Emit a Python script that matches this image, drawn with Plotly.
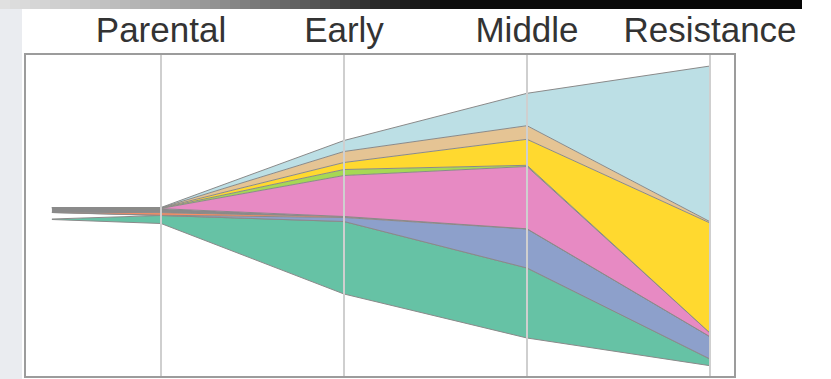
import plotly.graph_objects as go

# ---- data ----
stages = ["Parental", "Early", "Middle", "Resistance"]
stage_x = [1, 2, 3, 4]
time_x = [0.404, 1, 2, 3, 4]          # start point + four stages

baseline = [157.5, 153.5, 83, 39, 11.3]   # offset below the stack (invisible)
clone_names = ["green", "white", "blue", "orange", "gray", "pink",
               "lightgreen", "yellow", "tan", "lightblue"]
green      = [0.5, 8, 72.5, 70, 6.7]
white      = [6.5, 0, 0, 0, 0]
blue       = [0, 0.3, 4, 39, 22.3]
orange     = [0.3, 2.5, 1, 0.2, 0]
gray       = [4.5, 4, 0, 0, 0]
pink       = [0, 0.3, 41, 62.3, 3.7]
lightgreen = [0, 0.2, 6, 1.2, 0]
yellow     = [0, 0.2, 7, 26, 110]
tan        = [0, 0.2, 11, 13.6, 1.3]
lightblue  = [0, 0.3, 11, 32.4, 155.7]

clone_values = [green, white, blue, orange, gray, pink, lightgreen, yellow, tan, lightblue]
clone_colors = ["#66c2a5", "#ffffff", "#8da0cb", "#fc8d62", "#8a8a8a", "#e78ac3",
                "#a6d854", "#ffd92f", "#e5c494", "#bcdfe5"]

W, H = 831, 379
L, R, T, B = 25, 735, 54, 377   # plot area pixels

fig = go.Figure()
fig.add_trace(go.Scatter(x=time_x, y=baseline, stackgroup="s", mode="lines",
                         line=dict(color="#8a8a8a", width=1),
                         fillcolor="rgba(0,0,0,0)", hoverinfo="skip", showlegend=False))
for name, vals, col in zip(clone_names, clone_values, clone_colors):
    fig.add_trace(go.Scatter(x=time_x, y=vals, stackgroup="s", mode="lines", name=name,
                             line=dict(color="#8a8a8a", width=1),
                             fillcolor=col, showlegend=False))

shapes = []
# stage lines
for sx in stage_x:
    shapes.append(dict(type="line", xref="x", yref="paper", x0=sx, x1=sx, y0=0, y1=1,
                       line=dict(color="#cfcfcf", width=2), layer="above"))
# box
shapes.append(dict(type="rect", xref="paper", yref="paper", x0=0, x1=1, y0=0, y1=1,
                   line=dict(color="#9c9c9c", width=2), layer="above"))

def px_x(p):
    return (p - L) / (R - L)

def px_y(p):
    return (B - p) / (B - T)

# left strip
shapes.append(dict(type="rect", xref="paper", yref="paper", x0=px_x(0), x1=px_x(22),
                   y0=px_y(H), y1=px_y(9), fillcolor="#eaecf0", line=dict(width=0), layer="below"))
# top gradient bar
stops = [(0, 225), (100, 195), (200, 155), (300, 95), (380, 40), (450, 12), (802, 5)]
def grad(xp):
    for (a, ca), (b, cb) in zip(stops[:-1], stops[1:]):
        if a <= xp <= b:
            return ca + (cb - ca) * (xp - a) / (b - a)
    return stops[-1][1]
step = 10
for xs in range(0, 802, step):
    c = int(round(grad(xs + step / 2)))
    shapes.append(dict(type="rect", xref="paper", yref="paper", x0=px_x(xs), x1=px_x(min(xs + step + 1, 802)),
                       y0=px_y(9), y1=px_y(0), fillcolor=f"rgb({c},{c},{c})",
                       line=dict(width=0), layer="below"))

x0 = 1 - (161 - L) / 183
x1 = 4 + (R - 710) / 183
fig.update_layout(
    width=W, height=H, autosize=False,
    margin=dict(l=L, r=W - R, t=T, b=H - B, pad=0),
    paper_bgcolor="white", plot_bgcolor="white",
    shapes=shapes,
    xaxis=dict(range=[x0, x1], side="top", tickvals=stage_x, ticktext=stages,
               showgrid=False, zeroline=False, showline=False, ticks="",
               ticklabelstandoff=4,
               tickfont=dict(family="Liberation Sans", size=35, color="#333333"),
               fixedrange=True),
    yaxis=dict(range=[0, B - T], visible=False, fixedrange=True),
)
fig.write_html("out.html", config={"displayModeBar": False})
